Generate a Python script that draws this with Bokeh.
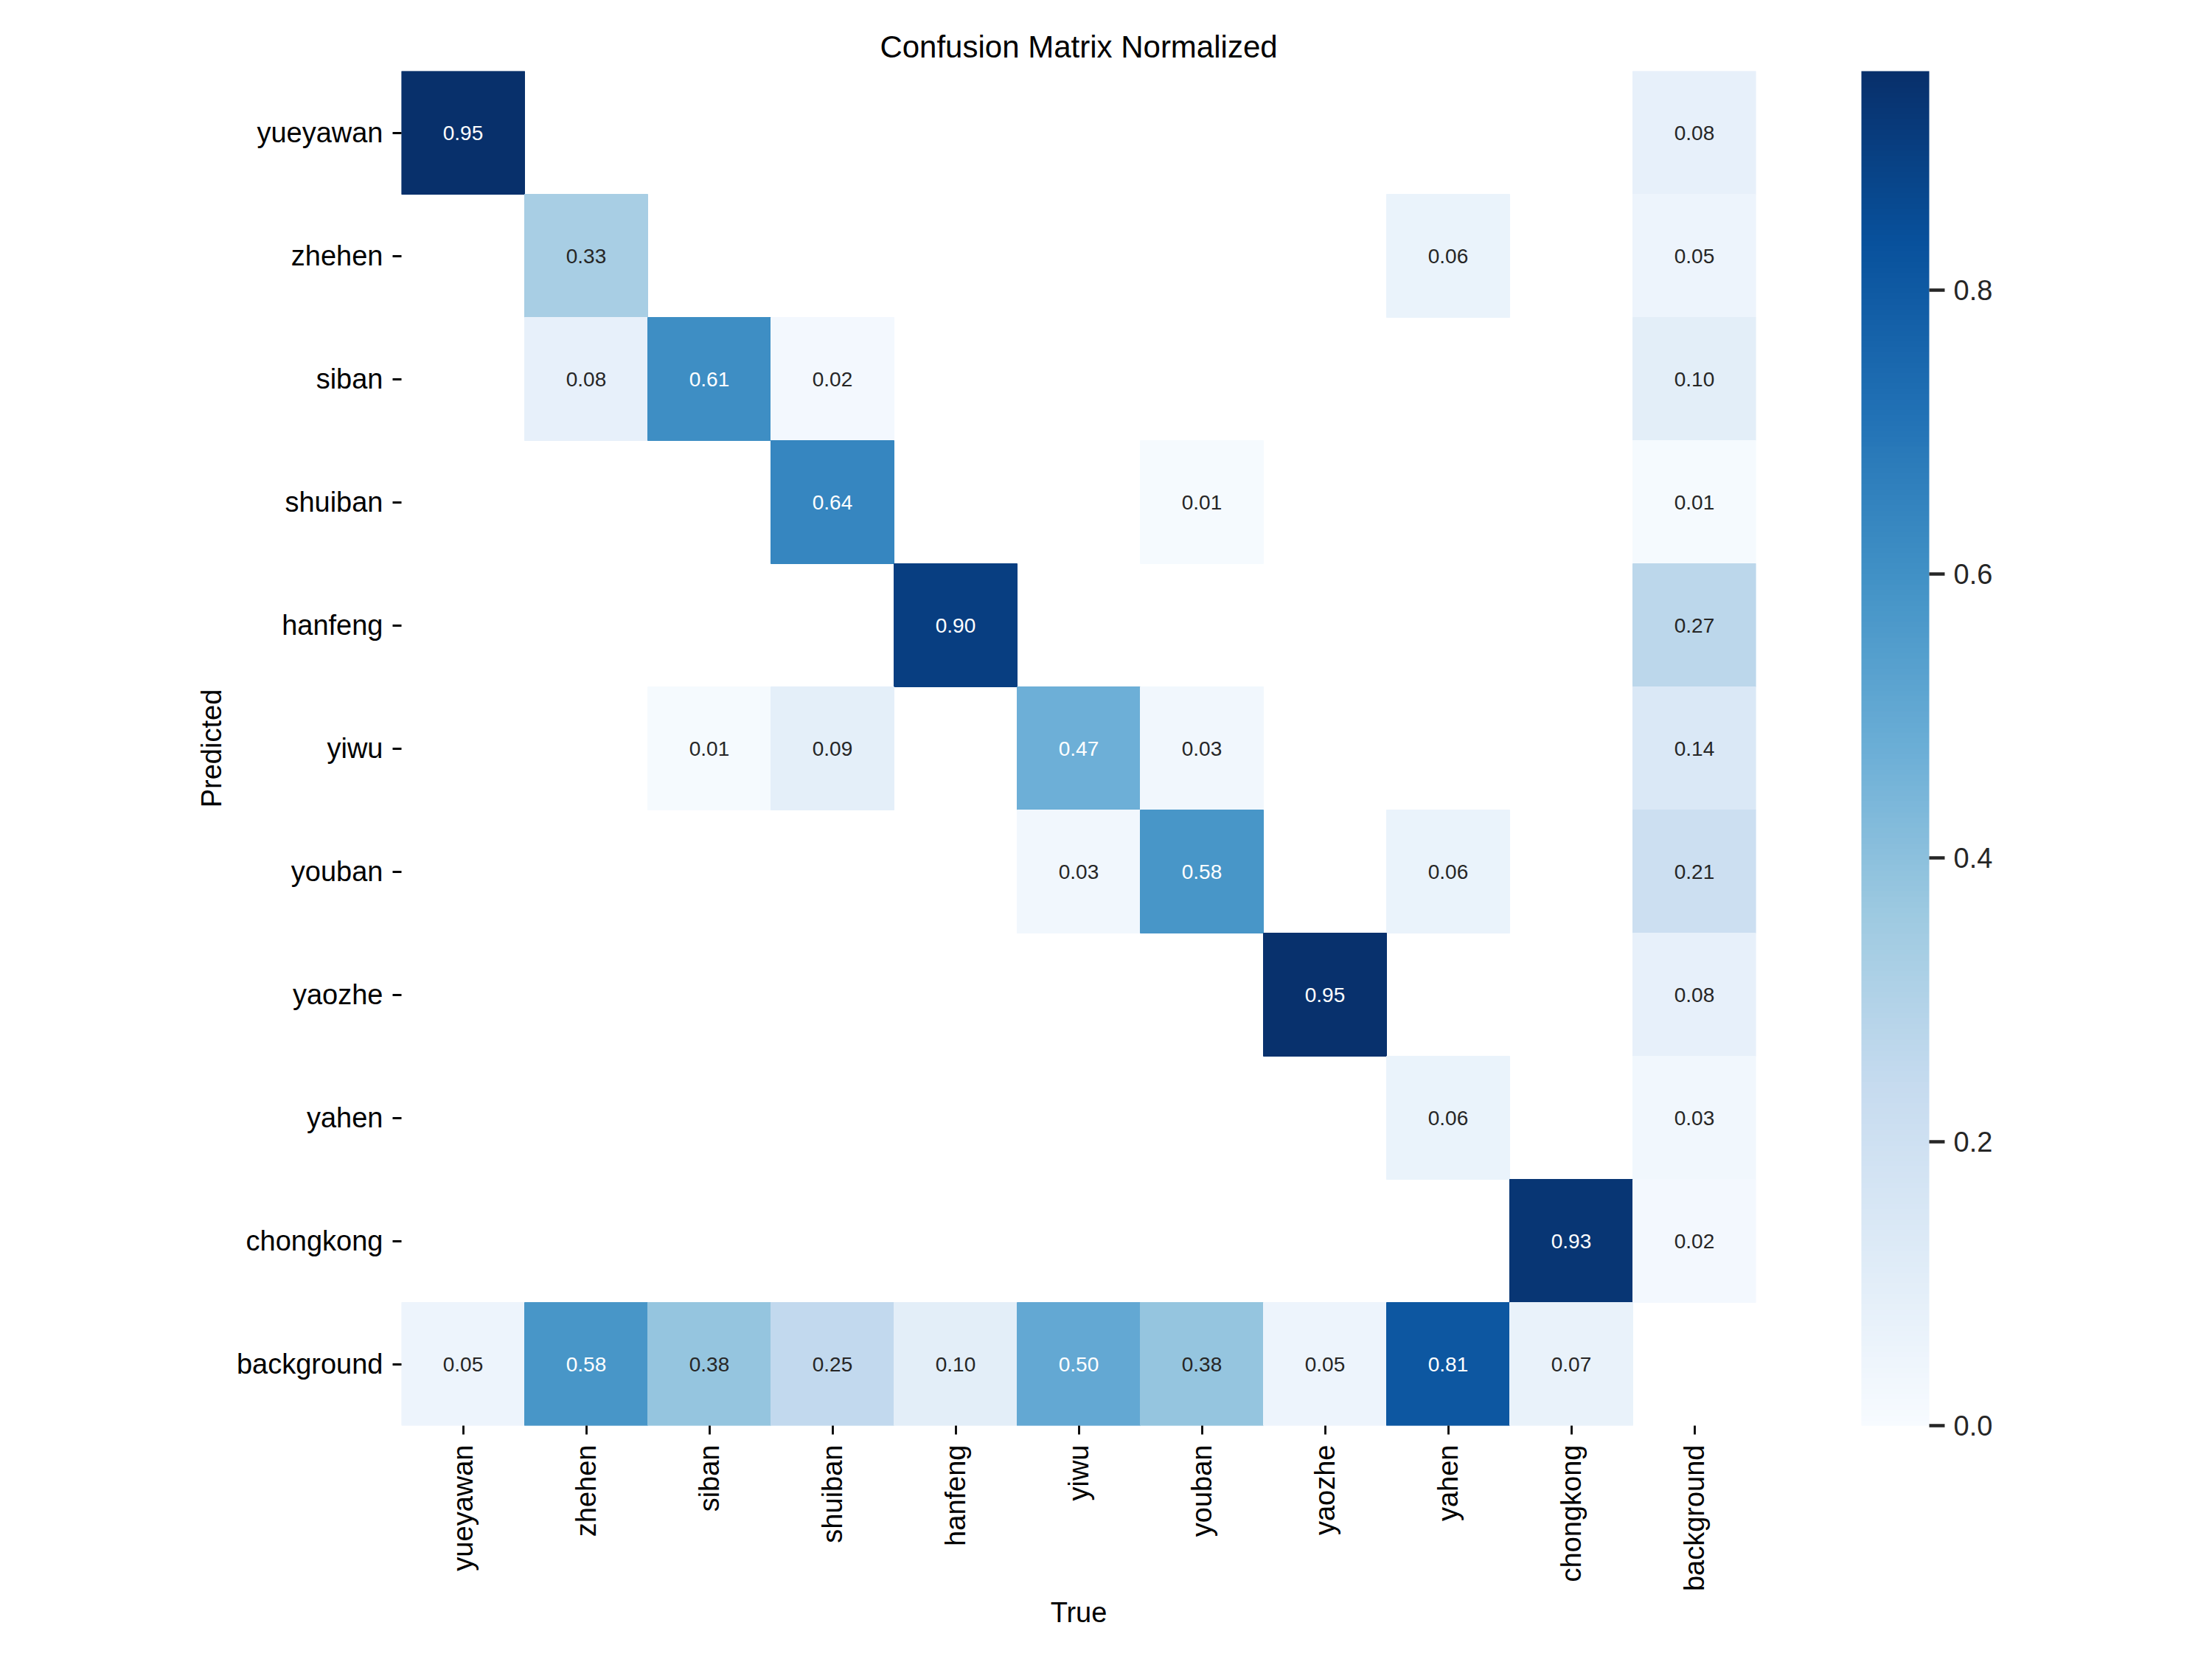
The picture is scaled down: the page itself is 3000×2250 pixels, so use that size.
import math
from bokeh.plotting import figure
from bokeh.models import (ColumnDataSource, LinearColorMapper, ColorBar, FixedTicker,
                          PrintfTickFormatter, FactorRange)
from bokeh.palettes import Blues256
from bokeh.core.properties import value
from bokeh.embed import file_html
from bokeh.resources import INLINE

# class names (rows = Predicted, columns = True)
classes = ["yueyawan", "zhehen", "siban", "shuiban", "hanfeng", "yiwu",
           "youban", "yaozhe", "yahen", "chongkong", "background"]

# normalized confusion matrix rows; None = blank cell (< 0.005)
row_yueyawan   = [0.954, None, None, None, None, None, None, None, None, None, 0.08]
row_zhehen     = [None, 0.33, None, None, None, None, None, None, 0.06, None, 0.05]
row_siban      = [None, 0.08, 0.61, 0.02, None, None, None, None, None, None, 0.10]
row_shuiban    = [None, None, None, 0.64, None, None, 0.01, None, None, None, 0.01]
row_hanfeng    = [None, None, None, None, 0.90, None, None, None, None, None, 0.27]
row_yiwu       = [None, None, 0.01, 0.09, None, 0.47, 0.03, None, None, None, 0.14]
row_youban     = [None, None, None, None, None, 0.03, 0.58, None, 0.06, None, 0.21]
row_yaozhe     = [None, None, None, None, None, None, None, 0.95, None, None, 0.08]
row_yahen      = [None, None, None, None, None, None, None, None, 0.06, None, 0.03]
row_chongkong  = [None, None, None, None, None, None, None, None, None, 0.93, 0.02]
row_background = [0.05, 0.58, 0.38, 0.25, 0.10, 0.50, 0.38, 0.05, 0.81, 0.07, None]

rows = [row_yueyawan, row_zhehen, row_siban, row_shuiban, row_hanfeng, row_yiwu,
        row_youban, row_yaozhe, row_yahen, row_chongkong, row_background]

colorbar_ticks = [0.0, 0.2, 0.4, 0.6, 0.8]

# palette light -> dark
pal = list(Blues256)
def _lum(hexc):
    h = hexc.lstrip("#")
    r, g, b = (int(h[i:i + 2], 16) / 255 for i in (0, 2, 4))
    lin = [c / 12.92 if c <= 0.03928 else ((c + 0.055) / 1.055) ** 2.4 for c in (r, g, b)]
    return 0.2126 * lin[0] + 0.7152 * lin[1] + 0.0722 * lin[2]
if _lum(pal[0]) < _lum(pal[-1]):
    pal = pal[::-1]

vals_all = [v for r in rows for v in r if v is not None]
vmin, vmax = 0.0, max(vals_all)
mapper = LinearColorMapper(palette=pal, low=vmin, high=vmax)

xs, ys, vs, labels, tcolors = [], [], [], [], []
for i, r in enumerate(rows):
    for j, v in enumerate(r):
        if v is None:
            continue
        xs.append(classes[j])
        ys.append(classes[i])
        vs.append(v)
        labels.append(f"{v:.2f}")
        idx = min(int((v - vmin) / (vmax - vmin) * len(pal)), len(pal) - 1)
        tcolors.append("#262626" if _lum(pal[idx]) > 0.408 else "#ffffff")

src = ColumnDataSource(dict(x=xs, y=ys, v=vs, label=labels, tc=tcolors))

FONT = "Liberation Sans"

p = figure(x_range=FactorRange(*classes), y_range=FactorRange(*classes[::-1]),
           frame_width=1837, frame_height=1837,
           min_border_left=544, min_border_right=603,
           min_border_top=96, min_border_bottom=301,
           output_backend="svg", toolbar_location=None,
           title="Confusion Matrix Normalized",
           x_axis_label="True", y_axis_label="Predicted")

p.rect(x="x", y="y", width=1, height=1, source=src,
       fill_color={"field": "v", "transform": mapper},
       line_color={"field": "v", "transform": mapper}, line_width=1)

p.text(x="x", y="y", text="label", source=src, text_color="tc",
       text_align="center", text_baseline="middle",
       text_font=value(FONT), text_font_size="28px")

p.title.text_font = FONT
p.title.text_font_size = "42px"
p.title.text_font_style = "normal"
p.title.text_color = "black"
p.title.align = "center"
p.title.standoff = 20

p.axis.axis_line_color = None
p.axis.major_tick_in = 0
p.axis.major_tick_out = 12
p.axis.major_tick_line_width = 2.8
p.axis.major_tick_line_color = "black"
p.axis.minor_tick_line_color = None
p.axis.major_label_text_font = FONT
p.axis.major_label_text_font_size = "38px"
p.axis.major_label_text_color = "black"
p.axis.axis_label_text_font = FONT
p.axis.axis_label_text_font_size = "38px"
p.axis.axis_label_text_font_style = "normal"
p.axis.axis_label_text_color = "black"
p.xaxis.major_label_orientation = math.pi / 2
p.xaxis.major_label_standoff = 14
p.yaxis.major_label_standoff = 13
p.xaxis.axis_label_standoff = 5
p.yaxis.axis_label_standoff = 10

p.grid.visible = False
p.outline_line_color = None
p.background_fill_color = "white"
p.border_fill_color = "white"

cb = ColorBar(color_mapper=mapper,
              ticker=FixedTicker(ticks=colorbar_ticks),
              formatter=PrintfTickFormatter(format="%.1f"),
              width=92, height=1837, location=(143, 0),
              margin=0, padding=0,
              major_tick_in=0, major_tick_out=21,
              major_tick_line_color="#262626", major_tick_line_width=4.3,
              minor_tick_line_color=None,
              label_standoff=12,
              major_label_text_font=FONT,
              major_label_text_font_size="38px",
              major_label_text_color="#262626",
              bar_line_color=None, border_line_color=None,
              background_fill_color=None)
p.add_layout(cb, "right")

open("out.html", "w").write(file_html(p, INLINE, title="Confusion Matrix Normalized"))
